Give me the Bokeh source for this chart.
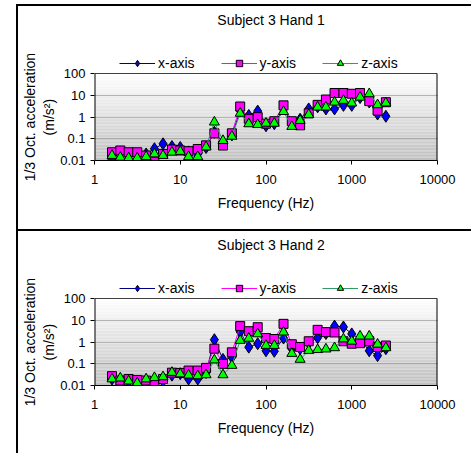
import numpy as np
from bokeh.plotting import figure
from bokeh.layouts import column
from bokeh.models import Range1d, FixedTicker, Legend, LegendItem
from bokeh.core.properties import value
from bokeh.embed import file_html
from bokeh.resources import INLINE

FONT = "Liberation Sans"

freq = [1.6, 2, 2.5, 3.15, 4, 5, 6.3, 8, 10, 12.5, 16, 20, 25, 31.5, 40, 50, 63, 80,
        100, 125, 160, 200, 250, 315, 400, 500, 630, 800, 1000, 1250, 1600, 2000, 2500]

# Subject 3 Hand 1
hand1_x = [0.011, 0.010, 0.011, 0.011, 0.02, 0.035, 0.059, 0.044, 0.04, 0.025, 0.02, 0.04, 0.2, 0.07, 0.15,
           2.0, 1.2, 1.9, 0.4, 0.5, 2.5, 0.5, 0.8, 2.4, 3.0, 2.4, 2.4, 3.5, 3.5, 8.0, 5.0, 1.4, 1.1]
hand1_y = [0.024, 0.029, 0.024, 0.024, 0.017, 0.009, 0.02, 0.032, 0.029, 0.027, 0.034, 0.05, 0.18, 0.049, 0.18,
           3.1, 0.84, 1.0, 0.5, 0.65, 3.5, 0.65, 0.42, 1.5, 3.7, 6.5, 13, 13, 12, 13, 5.5, 2.0, 4.9]
hand1_z = [0.017, 0.014, 0.013, 0.013, 0.015, 0.02, 0.017, 0.024, 0.026, 0.015, 0.015, 0.042, 0.59, 0.083, 0.13,
           1.5, 0.49, 0.45, 0.52, 0.52, 1.8, 0.37, 0.7, 1.3, 2.9, 2.9, 4.9, 5.9, 4.5, 8.3, 12, 3.7, 4.5]

# Subject 3 Hand 2
hand2_x = [0.02, 0.018, 0.016, 0.014, 0.012, 0.014, 0.016, 0.03, 0.035, 0.02, 0.02, 0.04, 1.3, 0.16, 0.2,
           3.0, 0.59, 0.85, 0.4, 0.38, 1.55, 0.5, 0.5, 0.9, 1.6, 2.5, 5.5, 5.0, 2.4, 1.4, 0.4, 0.24, 0.5]
hand2_y = [0.027, 0.017, 0.02, 0.018, 0.017, 0.013, 0.02, 0.039, 0.038, 0.049, 0.049, 0.065, 0.5, 0.1, 0.34,
           5.5, 3.2, 4.9, 1.55, 1.4, 7.0, 0.8, 0.6, 1.1, 3.7, 2.9, 2.8, 1.1, 0.85, 0.9, 1.1, 0.6, 0.7]
hand2_z = [0.02, 0.022, 0.016, 0.013, 0.02, 0.023, 0.025, 0.04, 0.034, 0.03, 0.028, 0.031, 0.15, 0.031, 0.084,
           1.2, 1.5, 2.4, 0.7, 0.7, 2.9, 0.3, 0.16, 0.41, 0.45, 0.48, 0.55, 1.4, 1.1, 1.9, 1.9, 0.8, 0.55]

x_ticks = [1, 10, 100, 1000, 10000]
x_tick_labels = ["1", "10", "100", "1000", "10000"]
y_ticks = [0.01, 0.1, 1, 10, 100]
y_tick_labels = ["0.01", "0.1", "1", "10", "100"]
y_min, y_max = 0.01, 100
x_min, x_max = 1, 10000

series_names = ["x-axis", "y-axis", "z-axis"]
line_colors = ["#000080", "#FF00FF", "#339966"]
fill_colors = ["#0000FF", "#FF00FF", "#00FF00"]
markers = ["diamond", "square", "triangle"]
marker_sizes = [12, 9, 10]

NB = "\u00a0"
PX_PER_DECADE = 21.67
BORDER_TOP = 5


def make_chart(title, data, height, bottom):
    frame_h = height - BORDER_TOP - bottom
    y_top = 10 ** (np.log10(y_min) + frame_h / PX_PER_DECADE)
    p = figure(width=455, height=height, x_axis_type="log", y_axis_type="log",
               x_range=Range1d(x_min, x_max), y_range=Range1d(y_min, y_top),
               output_backend="svg", toolbar_location=None, title=None,
               min_border_left=75, min_border_right=36, min_border_top=BORDER_TOP,
               min_border_bottom=bottom)
    p.styles = {"border-left": "2px solid black", "border-top": "2px solid black"}

    # gradient plot-area background (white top -> gray bottom)
    nb = 60
    edges = np.logspace(np.log10(y_min), np.log10(y_max), nb + 1)
    shades = np.linspace(192, 255, nb).astype(int)
    cols = ["#%02x%02x%02x" % (s, s, s) for s in shades]
    p.quad(left=[x_min] * nb, right=[x_max] * nb, bottom=edges[:-1], top=edges[1:],
           fill_color=cols, line_color=None)
    # plot-area left/right borders
    p.segment(x0=[x_min, x_max], y0=[y_min, y_min], x1=[x_min, x_max], y1=[y_max, y_max],
              line_color="black", line_width=2)

    items = []
    for name, vals, lc, fc, mk, ms in zip(series_names, data, line_colors,
                                          fill_colors, markers, marker_sizes):
        r1 = p.line(freq, vals, line_color=lc, line_width=1)
        r2 = p.scatter(freq, vals, marker=mk, size=ms, fill_color=fc,
                       line_color="black", line_width=1)
        items.append(LegendItem(label=name, renderers=[r1, r2]))

    legend = Legend(items=items, orientation="horizontal", location=(25, 89),
                    glyph_width=36, glyph_height=16, label_standoff=3, spacing=26,
                    padding=10, margin=0, border_line_color=None,
                    background_fill_color="white", background_fill_alpha=1.0,
                    label_text_font=FONT, label_text_font_size="14px",
                    label_text_color="black")
    p.add_layout(legend, "center")

    # chart title, placed at the top of the chart area
    p.text(x=[np.sqrt(x_min * x_max)], y=[y_top], text=[title], text_align="center",
           text_baseline="middle", x_offset=5, y_offset=8,
           text_font=value(FONT), text_font_size="14px", text_color="black")

    p.xaxis.ticker = FixedTicker(ticks=x_ticks)
    p.xaxis.major_label_overrides = dict(zip(x_ticks, x_tick_labels))
    p.yaxis.ticker = FixedTicker(ticks=y_ticks)
    p.yaxis.major_label_overrides = dict(zip(y_ticks, y_tick_labels))

    for ax in (p.xaxis[0], p.yaxis[0]):
        ax.minor_tick_line_color = None
        ax.major_tick_in = 0
        ax.major_tick_out = 4
        ax.major_tick_line_color = "black"
        ax.axis_line_color = "black"
        ax.major_label_text_font = FONT
        ax.major_label_text_font_size = "13px"
        ax.major_label_text_color = "black"
        ax.axis_label_text_font = FONT
        ax.axis_label_text_font_size = "14px"
        ax.axis_label_text_font_style = "normal"
        ax.axis_label_text_color = "black"
    p.yaxis.axis_line_color = None

    p.xaxis.major_label_standoff = 10
    p.yaxis.major_label_standoff = 5
    p.xaxis.axis_label = "Frequency (Hz)"
    p.xaxis.axis_label_standoff = 8
    p.yaxis.axis_label = "1/3 Oct. acceleration" + NB * 16 + "\n(m/s²)" + NB * 16
    p.yaxis.axis_label_standoff = 0

    p.xgrid.grid_line_color = None
    p.ygrid.grid_line_color = "black"
    p.ygrid.grid_line_width = 1

    p.outline_line_color = None
    p.background_fill_color = "white"
    p.border_fill_color = "white"
    return p


p1 = make_chart("Subject 3 Hand 1", [hand1_x, hand1_y, hand1_z], 225, 71)
p1.margin = (4, 0, 0, 16)
p2 = make_chart("Subject 3 Hand 2", [hand2_x, hand2_y, hand2_z], 224, 70)
p2.margin = (0, 0, 0, 16)

layout = column(p1, p2, spacing=0)
open("out.html", "w").write(file_html(layout, INLINE))
